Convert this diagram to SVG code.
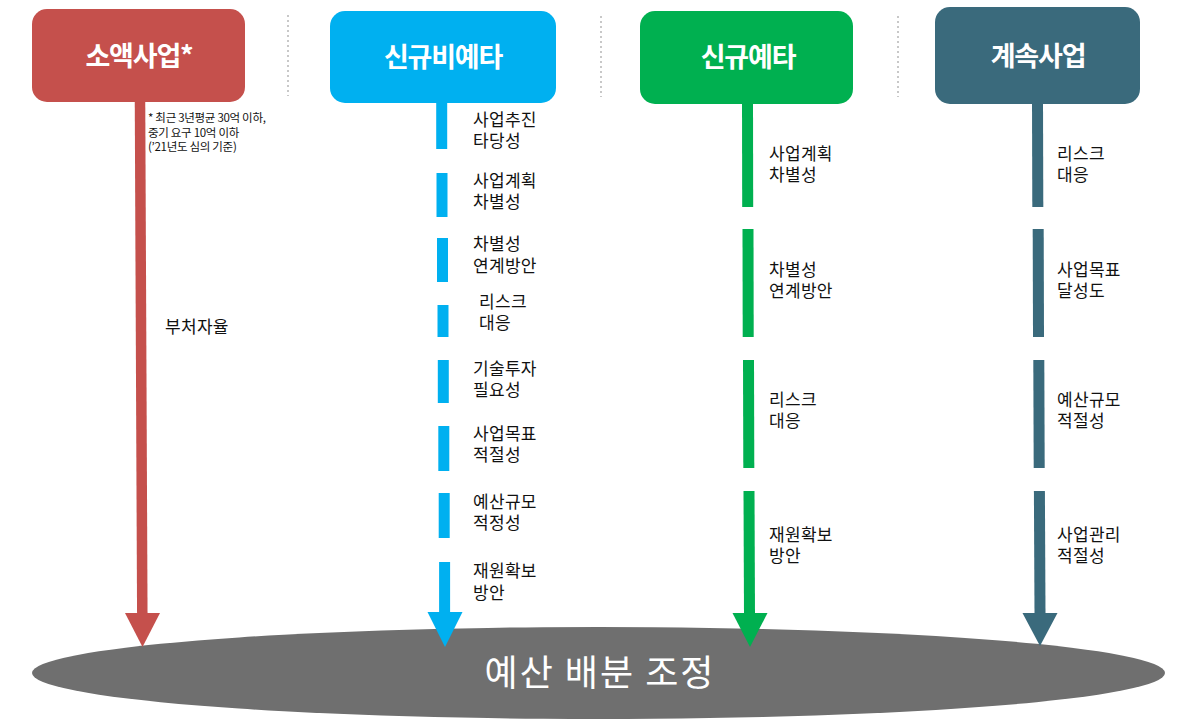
<svg xmlns="http://www.w3.org/2000/svg" width="1177" height="724" viewBox="0 0 1177 724">
<style>
.title{font-family:"Noto Sans CJK KR","Noto Sans",sans-serif;font-size:27px;font-weight:bold;fill:#fff;text-anchor:middle;letter-spacing:-1.2px}
.lbl{font-family:"Noto Sans CJK KR","Noto Sans",sans-serif;font-size:17px;fill:#111;letter-spacing:0.3px}
.note{font-family:"Noto Sans CJK KR","Noto Sans",sans-serif;font-size:11.5px;fill:#111;letter-spacing:-0.3px}
.sep{stroke:#C8C8C8;stroke-width:2;stroke-dasharray:2 3}
.red{stroke:#C5504C;fill:#C5504C}
.blue{stroke:#00B0F0;fill:#00B0F0}
.green{stroke:#00B050;fill:#00B050}
.teal{stroke:#3A6A7C;fill:#3A6A7C}
.seg{stroke-width:11;fill:none}
.head{stroke:none}
</style>
<g id="separators">
<line class="sep" x1="288" y1="15" x2="288" y2="96"/>
<line class="sep" x1="601" y1="16" x2="601" y2="97"/>
<line class="sep" x1="898" y1="16" x2="898" y2="97"/>
</g>
<g id="budget">
<ellipse cx="598.5" cy="673" rx="566.5" ry="46" fill="#6F6F6F"/>
<text x="600" y="686" style="font-family:'Noto Sans CJK KR','Noto Sans',sans-serif;font-size:36px;fill:#fff;text-anchor:middle;letter-spacing:2px">예산 배분 조정</text>
</g>
<g id="connectors">
<g class="red">
<line class="seg" x1="140" y1="100" x2="142.3" y2="614" style="stroke-width:10.5"/>
<polygon class="head" points="125,613 160,613 142.5,647"/>
</g>
<g class="blue">
<line class="seg" x1="441.7" y1="100" x2="441.7" y2="149"/>
<line class="seg" x1="442" y1="173" x2="442" y2="217"/>
<line class="seg" x1="442.5" y1="238" x2="442.5" y2="282"/>
<line class="seg" x1="443" y1="305" x2="443" y2="337"/>
<line class="seg" x1="443.3" y1="360" x2="443.3" y2="403"/>
<line class="seg" x1="443.8" y1="426" x2="443.8" y2="471"/>
<line class="seg" x1="444.2" y1="493" x2="444.2" y2="538"/>
<line class="seg" x1="444.6" y1="562" x2="444.6" y2="614"/>
<polygon class="head" points="427.5,612 462.5,612 445,647"/>
</g>
<g class="green">
<line class="seg" x1="747.5" y1="100" x2="747.7" y2="207"/>
<line class="seg" x1="748" y1="229" x2="748.2" y2="337"/>
<line class="seg" x1="748.5" y1="360" x2="748.8" y2="468"/>
<line class="seg" x1="749" y1="491" x2="749.5" y2="614"/>
<polygon class="head" points="732.5,613 767.5,613 750,647"/>
</g>
<g class="teal">
<line class="seg" x1="1037.5" y1="100" x2="1037.8" y2="207"/>
<line class="seg" x1="1038.2" y1="229" x2="1038.5" y2="337"/>
<line class="seg" x1="1038.8" y1="360" x2="1039.2" y2="468"/>
<line class="seg" x1="1039.4" y1="491" x2="1040" y2="614"/>
<polygon class="head" points="1022.5,613 1057.5,613 1040,646"/>
</g>
</g>
<g id="node-small">
<rect x="32" y="9" width="213" height="93" rx="15" fill="#C5504C"/>
<text class="title" x="139" y="66">소액사업*</text>
<text class="note" x="148" y="122">* 최근 3년평균 30억 이하,</text>
<text class="note" x="148" y="137">중기 요구 10억 이하</text>
<text class="note" x="148" y="151">(’21년도 심의 기준)</text>
<text class="lbl" x="165" y="333">부처자율</text>
</g>
<g id="node-new-nonpre">
<rect x="330" y="11" width="226" height="92" rx="15" fill="#00B0F0"/>
<text class="title" x="443" y="67">신규비예타</text>
<text class="lbl"><tspan x="473" y="126">사업추진</tspan><tspan x="473" y="147">타당성</tspan></text>
<text class="lbl"><tspan x="473" y="187">사업계획</tspan><tspan x="473" y="208">차별성</tspan></text>
<text class="lbl"><tspan x="473" y="250">차별성</tspan><tspan x="473" y="272">연계방안</tspan></text>
<text class="lbl"><tspan x="479" y="308">리스크</tspan><tspan x="479" y="329">대응</tspan></text>
<text class="lbl"><tspan x="473" y="375">기술투자</tspan><tspan x="473" y="396">필요성</tspan></text>
<text class="lbl"><tspan x="473" y="440">사업목표</tspan><tspan x="473" y="461">적절성</tspan></text>
<text class="lbl"><tspan x="473" y="508">예산규모</tspan><tspan x="473" y="529">적정성</tspan></text>
<text class="lbl"><tspan x="473" y="577">재원확보</tspan><tspan x="473" y="599">방안</tspan></text>
</g>
<g id="node-new-pre">
<rect x="640" y="11" width="213" height="93" rx="15" fill="#00B050"/>
<text class="title" x="748" y="67">신규예타</text>
<text class="lbl"><tspan x="769" y="160">사업계획</tspan><tspan x="769" y="181">차별성</tspan></text>
<text class="lbl"><tspan x="769" y="276">차별성</tspan><tspan x="769" y="297">연계방안</tspan></text>
<text class="lbl"><tspan x="769" y="406">리스크</tspan><tspan x="769" y="427">대응</tspan></text>
<text class="lbl"><tspan x="769" y="541">재원확보</tspan><tspan x="769" y="562">방안</tspan></text>
</g>
<g id="node-continuing">
<rect x="935" y="7" width="205" height="97" rx="15" fill="#3A6A7C"/>
<text class="title" x="1038" y="66">계속사업</text>
<text class="lbl"><tspan x="1057" y="160">리스크</tspan><tspan x="1057" y="181">대응</tspan></text>
<text class="lbl"><tspan x="1057" y="276">사업목표</tspan><tspan x="1057" y="297">달성도</tspan></text>
<text class="lbl"><tspan x="1057" y="406">예산규모</tspan><tspan x="1057" y="427">적절성</tspan></text>
<text class="lbl"><tspan x="1057" y="541">사업관리</tspan><tspan x="1057" y="562">적절성</tspan></text>
</g>
</svg>
